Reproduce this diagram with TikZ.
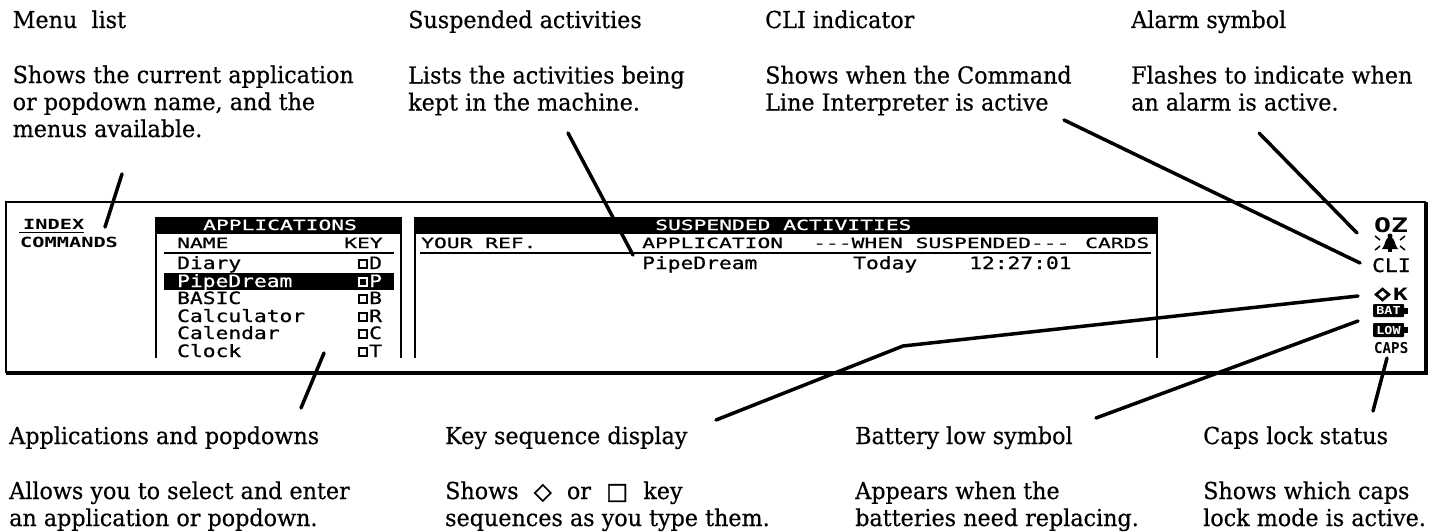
\documentclass[tikz,border=0pt]{standalone}
\usepackage{fontspec}
\setmainfont{DejaVu Serif}
\newfontfamily\lab[FakeStretch=0.955,FakeBold=0.5]{DejaVu Serif}
\newfontfamily\scrbig[FakeStretch=1.25,FakeBold=0.8]{DejaVu Sans Mono}
\newfontfamily\scrcap[FakeStretch=1.52,FakeBold=0.8]{DejaVu Sans Mono}
\newfontfamily\scrheavy[FakeStretch=1.45]{DejaVu Sans Mono}
\newcommand\scrbold{\scrheavy\bfseries}
\newfontfamily\symbf[FakeBold=1.5]{DejaVu Sans}
\newcommand\symb{\symbf\bfseries}
\tikzset{
  lbl/.style={anchor=base west,inner sep=0pt,font=\lab\fontsize{23.3}{27}\selectfont,text=black},
  lblbody/.style={lbl,align=left},
  bigt/.style={anchor=base west,inner sep=0pt,font=\scrbig\fontsize{17}{17}\selectfont},
  capt/.style={anchor=base west,inner sep=0pt,font=\scrcap\fontsize{14}{14}\selectfont},
  capb/.style={anchor=base west,inner sep=0pt,font=\scrbold\fontsize{14}{14}\selectfont},
  leader/.style={line width=3.5pt,line cap=round,line join=round},
  side/.style={line width=2pt},
  keysq/.style={draw,line width=2pt,minimum size=8pt,inner sep=0pt},
}
\begin{document}
\begin{tikzpicture}[x=1pt,y=-1pt]
\useasboundingbox (0,0) rectangle (1442,532);
% frame
\draw[line width=2pt] (6,373) -- (6,202) -- (1426,202);
\draw[line width=3.5pt] (1426,202) -- (1426,373) -- (6,373);
% left texts
\node[capb] (index) at (23,229) {INDEX};
\draw[line width=1.6pt] (19,232.5) -- (84,232.5);
\node[capb] (commands) at (20,247) {COMMANDS};
% applications box
\fill (155,217) rectangle (402,234);
\draw[side] (156,234) -- (156,358);
\draw[side] (401,234) -- (401,358);
\node[capt,text=white] (apptitle) at (203,230) {APPLICATIONS};
\node[capt] (name) at (177,248) {NAME};
\node[capt] (key) at (344,248) {KEY};
\draw[side] (164,253) -- (394,253);
\fill (164,273) rectangle (394,290);
\node[bigt] (diary) at (177,269) {Diary};
\node[bigt,text=white] (pipe) at (177,287) {PipeDream};
\node[bigt] (basic) at (177,304) {BASIC};
\node[bigt] (calc) at (177,322) {Calculator};
\node[bigt] (cal) at (177,339) {Calendar};
\node[bigt] (clock) at (177,357) {Clock};
\node[keysq] (sq1) at (362.5,264) {}; \node[bigt] (kd) at (369,269) {D};
\node[keysq,draw=white] (sq2) at (362.5,282) {}; \node[bigt,text=white] (kp) at (369,287) {P};
\node[keysq] (sq3) at (362.5,299) {}; \node[bigt] (kb) at (369,304) {B};
\node[keysq] (sq4) at (362.5,317) {}; \node[bigt] (kr) at (369,322) {R};
\node[keysq] (sq5) at (362.5,334) {}; \node[bigt] (kc) at (369,339) {C};
\node[keysq] (sq6) at (362.5,352) {}; \node[bigt] (kt) at (369,357) {T};
% suspended box
\fill (414,217) rectangle (1158,234);
\draw[side] (415,234) -- (415,358);
\draw[side] (1157,234) -- (1157,358);
\node[capt,text=white] (sustitle) at (655,230) {SUSPENDED ACTIVITIES};
\node[capt] (yourref) at (421,248) {YOUR REF.};
\node[capt] (apphead) at (642,248) {APPLICATION};
\node[capt] (when) at (813,248) {---WHEN SUSPENDED---};
\node[capt] (cards) at (1085,248) {CARDS};
\draw[side] (420,253) -- (1151,253);
\node[bigt] (pipe2) at (642,269) {PipeDream};
\node[bigt] (today) at (853,269) {Today};
\node[bigt] (time) at (969,269) {12:27:01};
% right icons
\node[anchor=base west,inner sep=0pt,font=\scrbold\fontsize{20}{20}\selectfont] (oz) at (1374,232) {\scalebox{0.97}[1]{OZ}};
\fill (1390,236) circle (2.5pt);
\fill (1382,249) .. controls (1386,245) and (1384,238) .. (1390,237) .. controls (1396,238) and (1394,245) .. (1398,249) -- cycle;
\fill (1388,249) rectangle (1392,252);
\draw[line width=1.5pt] (1375,236) -- (1380,240) (1405,236) -- (1400,240) (1375,250) -- (1380,246) (1405,250) -- (1400,246);
\node[bigt] (cli) at (1372,272) {\scalebox{1}[1.1]{CLI}};
\draw[line width=2.6pt] (1382.5,289) -- (1389,294.5) -- (1382.5,300) -- (1376,294.5) -- cycle;
\node[anchor=base west,inner sep=0pt,font=\scrbold\fontsize{17}{17}\selectfont] (okk) at (1393,300.5) {K};
\fill[rounded corners=1pt] (1373,304) rectangle (1404,317);
\fill (1404,307.5) rectangle (1407.5,313.5);
\node[inner sep=0pt,text=white,font=\scrbold\fontsize{11}{11}\selectfont] (bat) at (1388.5,310.5) {\scalebox{0.84}[1]{BAT}};
\fill[rounded corners=1pt] (1373,323) rectangle (1404,337);
\fill (1404,327) rectangle (1407.5,333);
\node[inner sep=0pt,text=white,font=\scrbold\fontsize{11}{11}\selectfont] (low) at (1388.5,330) {\scalebox{0.84}[1]{LOW}};
\node[anchor=base west,inner sep=0pt,font=\scrbold\fontsize{15}{15}\selectfont] (caps) at (1374,353) {\scalebox{0.65}[1]{CAPS}};
% labels top
\node[lbl] (t1) at (12.5,28) {Menu\ \ list};
\node[lblbody] (b1) at (12.5,137) {Shows the current application\\or popdown name, and the\\menus available.};
\node[lbl] (t2) at (408,28) {Suspended activities};
\node[lblbody] (b2) at (408,110.5) {Lists the activities being\\kept in the machine.};
\node[lbl] (t3) at (765,28) {CLI indicator};
\node[lblbody] (b3) at (765,110.5) {Shows when the Command\\Line Interpreter is active};
\node[lbl] (t4) at (1131,28) {Alarm symbol};
\node[lblbody] (b4) at (1131,110.5) {Flashes to indicate when\\an alarm is active.};
% labels bottom
\node[lbl] (t5) at (9,444) {Applications and popdowns};
\node[lblbody] (b5) at (9,526) {Allows you to select and enter\\an application or popdown.};
\node[lbl] (t6) at (445,444) {Key sequence display};
\node[lblbody] (b6) at (445,526) {Shows {\symb\ ◇\ } or {\symb\ □\ } key\\sequences as you type them.};
\node[lbl] (t7) at (855,444) {Battery low symbol};
\node[lblbody] (b7) at (855,526) {Appears when the\\batteries need replacing.};
\node[lbl] (t8) at (1203,444) {Caps lock status};
\node[lblbody] (b8) at (1203,526) {Shows which caps\\lock mode is active.};
% leaders
\coordinate (m1) at (122,174); \coordinate (m2) at (105,227);
\coordinate (s1) at (568,133); \coordinate (s2) at (633,255);
\coordinate (c1) at (1064,120); \coordinate (c2) at (1360,263);
\coordinate (a1) at (1259,133); \coordinate (a2) at (1357,233);
\coordinate (p1) at (324,353); \coordinate (p2) at (301,408);
\coordinate (k1) at (1358,296); \coordinate (k2) at (903,346); \coordinate (k3) at (716,420);
\coordinate (w1) at (1358,321); \coordinate (w2) at (1096,418);
\coordinate (l1) at (1387,358); \coordinate (l2) at (1373,411);
\draw[leader] (m1) -- (m2);
\draw[leader] (s1) -- (s2);
\draw[leader] (c1) -- (c2);
\draw[leader] (a1) -- (a2);
\draw[leader] (p1) -- (p2);
\draw[leader] (k1) -- (k2) -- (k3);
\draw[leader] (w1) -- (w2);
\draw[leader] (l1) -- (l2);
\end{tikzpicture}
\end{document}
